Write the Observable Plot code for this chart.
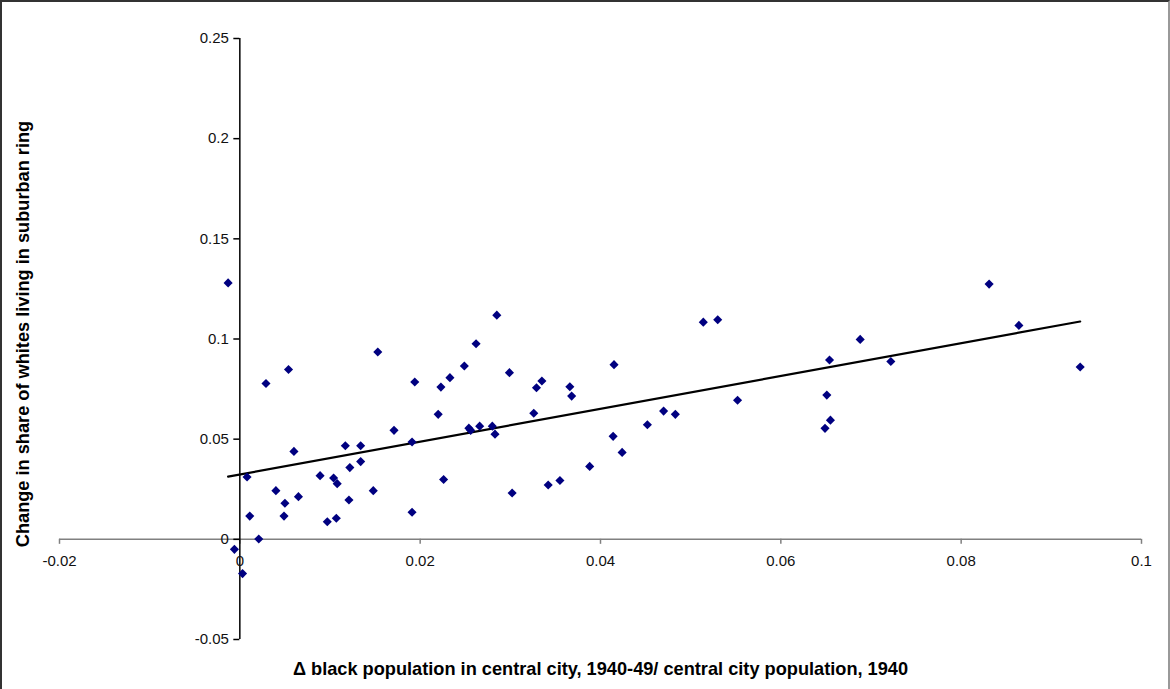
<!DOCTYPE html>
<html>
<head>
<meta charset="utf-8">
<script src="https://cdn.jsdelivr.net/npm/d3@7"></script>
<script src="https://cdn.jsdelivr.net/npm/@observablehq/plot@0.6"></script>
<style>
  html, body { margin: 0; padding: 0; background: #fff; }
  #wrap { position: relative; width: 1170px; height: 689px; overflow: hidden; }
  #border { position: absolute; left: 0; top: 0; width: 1170px; height: 689px; box-sizing: border-box;
            border-top: 2px solid #333; border-left: 2px solid #333; border-right: 2px solid #999; pointer-events: none; }
</style>
</head>
<body>
<div id="wrap"><div id="border"></div></div>
<script>
// Share change data (Δ black pop / city pop 1940, change in white suburban share)
const xVals = [
  -0.0013, 0.0029, 0.0054, 0.0153, 0.0194, 0.0171, 0.0191, 0.0060, 0.0117, 0.0134,
  0.0134, 0.0122, 0.0008, 0.0089, 0.0104, 0.0108, 0.0040, 0.0148, 0.0065, 0.0050,
  0.0121, 0.0011, 0.0049, 0.0097, 0.0107, 0.0191, 0.0021, -0.0006, 0.0003, 0.0285,
  0.0262, 0.0249, 0.0233, 0.0223, 0.0299, 0.0335, 0.0329, 0.0366, 0.0368, 0.0415,
  0.0220, 0.0326, 0.0254, 0.0256, 0.0266, 0.0280, 0.0283, 0.0414, 0.0424, 0.0226,
  0.0302, 0.0342, 0.0355, 0.0388, 0.0514, 0.0530, 0.0688, 0.0654, 0.0552, 0.0651,
  0.0655, 0.0649, 0.0470, 0.0483, 0.0452, 0.0831, 0.0864, 0.0722, 0.0932
];
const yVals = [
  0.1280, 0.0778, 0.0848, 0.0935, 0.0785, 0.0544, 0.0486, 0.0439, 0.0467, 0.0467,
  0.0388, 0.0358, 0.0311, 0.0318, 0.0306, 0.0278, 0.0243, 0.0243, 0.0213, 0.0180,
  0.0196, 0.0116, 0.0116, 0.0088, 0.0105, 0.0135, 0.0002, -0.0050, -0.0171, 0.1119,
  0.0976, 0.0865, 0.0807, 0.0760, 0.0832, 0.0790, 0.0757, 0.0762, 0.0715, 0.0872,
  0.0624, 0.0629, 0.0555, 0.0544, 0.0565, 0.0565, 0.0525, 0.0514, 0.0434, 0.0299,
  0.0231, 0.0271, 0.0294, 0.0364, 0.1084, 0.1096, 0.0998, 0.0895, 0.0694, 0.0720,
  0.0595, 0.0554, 0.0640, 0.0624, 0.0572, 0.1274, 0.1068, 0.0888, 0.0860
];
const xTicks = [-0.02, 0, 0.02, 0.04, 0.06, 0.08, 0.1];
const xTickLabels = ["-0.02", "0", "0.02", "0.04", "0.06", "0.08", "0.1"];
const yTicks = [-0.05, 0, 0.05, 0.1, 0.15, 0.2, 0.25];
const yTickLabels = ["-0.05", "0", "0.05", "0.1", "0.15", "0.2", "0.25"];
const xTitle = "Δ black population in central city, 1940-49/ central city population, 1940";
const yTitle = "Change in share of whites living in suburban ring";

const data = xVals.map((x, i) => ({x, y: yVals[i]}));
const xt = xTicks.map((v, i) => ({v, label: xTickLabels[i]}));
const yt = yTicks.map((v, i) => ({v, label: yTickLabels[i]}));

const chart = Plot.plot({
  width: 1170,
  height: 689,
  marginLeft: 59,
  marginRight: 29,
  marginTop: 38,
  marginBottom: 50,
  style: {fontFamily: "Arial, 'Liberation Sans', sans-serif", fontSize: "15px", background: "white", color: "black"},
  x: {domain: [-0.02, 0.1], axis: null},
  y: {domain: [-0.05, 0.25], axis: null},
  marks: [
    Plot.ruleY([0], {stroke: "#808080", strokeWidth: 1.5}),
    Plot.ruleX(xt, {x: "v", y1: 0, y2: 0, insetTop: 0, insetBottom: -5, stroke: "#808080", strokeWidth: 1.5}),
    Plot.ruleX([0], {stroke: "black", strokeWidth: 1.5}),
    Plot.ruleY(yt, {y: "v", x1: 0, x2: 0, insetLeft: -6, insetRight: 0, stroke: "black", strokeWidth: 1.5}),
    Plot.text(xt, {x: "v", y: 0, text: "label", dy: 22, textAnchor: "middle", fontSize: 15, fill: "#111"}),
    Plot.text(yt, {x: 0, y: "v", text: "label", dx: -11, textAnchor: "end", fontSize: 15, fill: "#111"}),
    Plot.linearRegressionY(data, {x: "x", y: "y", stroke: "black", strokeWidth: 2.2, ci: 0}),
    Plot.dot(data, {x: "x", y: "y", symbol: "diamond2", r: 4.1, fill: "#000080", stroke: "none"}),
    Plot.text([xTitle], {frameAnchor: "bottom", textAnchor: "middle", lineAnchor: "middle", dy: 30, fontSize: 18.2, fontWeight: "bold", fill: "black"}),
    Plot.text([yTitle], {frameAnchor: "left", textAnchor: "middle", lineAnchor: "middle", rotate: -90, dx: -36, dy: -5, fontSize: 18.2, fontWeight: "bold", fill: "black"})
  ]
});
document.getElementById("wrap").prepend(chart);
</script>
</body>
</html>
